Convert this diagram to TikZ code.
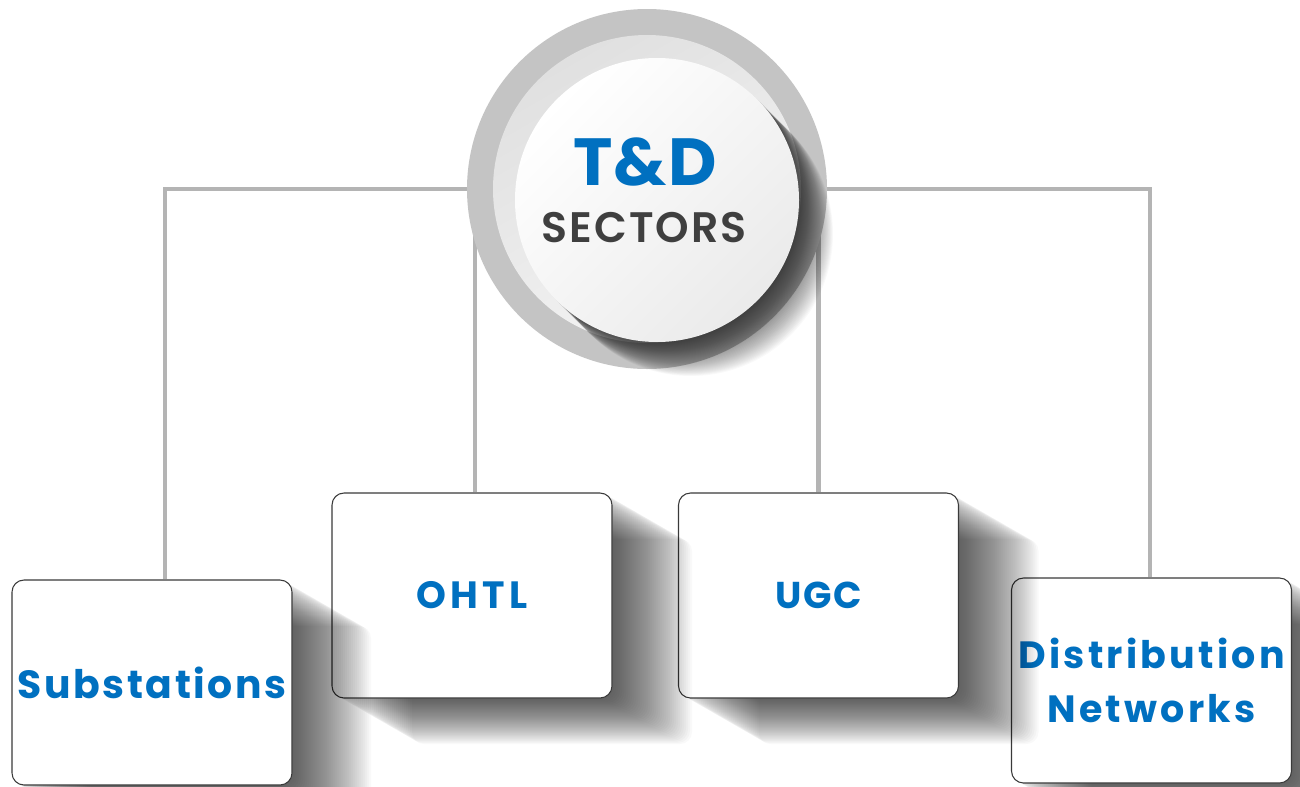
\documentclass[tikz,border=0pt]{standalone}
\usepackage{fontspec}
\setmainfont{Poppins}
\newfontfamily\semib{Poppins SemiBold}[LetterSpace=5]
\newfontfamily\popb{Poppins Bold}[LetterSpace=2]
\newfontfamily\popbw{Poppins Bold}[LetterSpace=8.5]
\newfontfamily\popbs{Poppins Bold}[LetterSpace=6.5]
\newfontfamily\popbx{Poppins Bold}[LetterSpace=11]
\newfontfamily\popbu{Poppins Bold}[LetterSpace=5]
\usetikzlibrary{calc,backgrounds}
\definecolor{tdblue}{HTML}{0070C0}
\definecolor{tdgray}{HTML}{3F3F3F}
\definecolor{linegray}{HTML}{B4B4B4}
\definecolor{ringgray}{HTML}{C4C4C4}
\definecolor{ringlight}{HTML}{E0E0E0}
\definecolor{boxedge}{HTML}{3A3A3A}
\newcommand\boxshadow[2]{%
  \foreach \k in {1,...,40}{%
    \fill[black,opacity=0.025,rounded corners=9pt]
      (#1-140+2*\k,#2-102.5+1.15*\k) rectangle ++(280,205);
  }}
\begin{document}
\begin{tikzpicture}[x=0.75pt,y=-0.75pt,
  conn/.style={draw=linegray,line width=3.5pt},
  tdbox/.style={draw=boxedge,line width=0.8pt,fill=white,rounded corners=9pt,
    minimum width=210pt,minimum height=153.75pt,inner sep=0pt,align=center,
    text=tdblue}]
\useasboundingbox (0,0) rectangle (1300,786);

% hub circle
\node[circle,fill=ringgray,minimum size=270pt,inner sep=0pt] (hub) at (647,189) {};
\shade[top color=ringlight,bottom color=white!96!black,shading angle=30] (647,189) circle (115.5pt);
\foreach \k in {1,...,40}{%
  \fill[black,opacity=0.025] (657+0.85*\k,200+0.85*\k) circle (106.5pt);}
\shade[top color=white,bottom color=black!8,shading angle=45] (657,200) circle (106.5pt);
\node[anchor=base,text=tdblue,font=\fontsize{50}{50}\selectfont\popb] (td) at (645,185) {T\&D};
\node[anchor=base,text=tdgray,font=\fontsize{32}{32}\selectfont\semib] (sec) at (644,242) {SECTORS};

% boxes, right to left so each shadow falls over the box to its right
\boxshadow{1151.5}{680.5}
\node[tdbox,font=\fontsize{28.5}{41}\selectfont\popbw] (dist) at (1151.5,680.5) {Distribution\\Networks};
\boxshadow{818.5}{595.5}
\node[tdbox,font=\fontsize{28}{34}\selectfont\popbu] (ugc) at (818.5,595.5) {UGC};
\boxshadow{472}{595.5}
\node[tdbox,font=\fontsize{28.5}{34}\selectfont\popbx] (ohtl) at (472,595.5) {OHTL};
\boxshadow{151}{682.5}
\node[tdbox,font=\fontsize{29.5}{34}\selectfont\popbs] (sub) at (152,682.5) {Substations};

% connectors
\begin{scope}[on background layer]
\coordinate (s1) at ($(sub.north)+(13,0)$);
\coordinate (d1) at ($(dist.north)+(-1.5,0)$);
\coordinate (o1) at ($(ohtl.north)+(3,0)$);
\coordinate (u1) at ($(ugc.north)+(0,0)$);
\draw[conn] (s1) |- (hub.center);
\draw[conn] (d1) |- (hub.center);
\draw[conn] (o1) -- (o1 |- hub.center);
\draw[conn] (u1) -- (u1 |- hub.center);
\end{scope}
\end{tikzpicture}
\end{document}
